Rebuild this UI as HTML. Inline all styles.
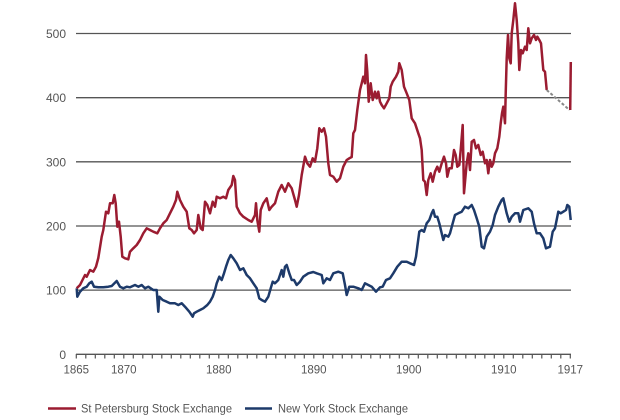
<!DOCTYPE html>
<html><head><meta charset="utf-8"><style>
html,body{margin:0;padding:0;background:#fff;}
svg{display:block;font-family:"Liberation Sans",Arial,sans-serif;}
</style></head><body>
<svg width="620" height="420" viewBox="0 0 620 420" xmlns="http://www.w3.org/2000/svg">
<rect width="620" height="420" fill="#fff"/>
<g stroke="#555" stroke-width="1.3">
<line x1="76" y1="33.5" x2="571" y2="33.5"/>
<line x1="76" y1="97.7" x2="571" y2="97.7"/>
<line x1="76" y1="161.8" x2="571" y2="161.8"/>
<line x1="76" y1="226" x2="571" y2="226"/>
<line x1="76" y1="290.1" x2="571" y2="290.1"/>
<line x1="76" y1="354.3" x2="571" y2="354.3"/>
</g>
<g fill="#555" font-size="12" text-anchor="end">
<text x="66" y="38">500</text>
<text x="66" y="102.2">400</text>
<text x="66" y="166.3">300</text>
<text x="66" y="230.5">200</text>
<text x="66" y="294.6">100</text>
<text x="66" y="358.8">0</text>
</g>
<g fill="#555" font-size="11.5" text-anchor="middle">
<text x="76.3" y="373.5">1865</text>
<text x="123.8" y="373.5">1870</text>
<text x="218.8" y="373.5">1880</text>
<text x="313.8" y="373.5">1890</text>
<text x="408.8" y="373.5">1900</text>
<text x="503.8" y="373.5">1910</text>
<text x="570.3" y="373.5">1917</text>
</g>
<polyline fill="none" stroke="#1d3a6a" stroke-width="2.5" stroke-linejoin="round" points="76.7,288.3 77.3,296.7 80,291.7 83.3,288.3 86.7,286.7 89.3,283.3 91.7,281.7 94,286.7 98.3,287.3 103.3,287.3 108.3,286.7 111.7,286 116.7,281 120,286.7 123.3,288.3 126.7,286.7 130,287.3 135,285 138.3,286.7 141.7,285 145,288.3 148.3,286.7 150.7,288.3 153.3,290 156.7,290 158.3,311.7 159.3,296.7 162.7,300 166.7,301.7 170,303.3 175,303.3 178.3,305 181.7,303.3 185,306.7 189.3,311.7 192.7,316.7 194,313.3 196.7,311.7 200,310 203.3,308.3 207.3,305 210,301.7 212.7,296.7 215,290 216.7,283.3 219.3,276.7 221.7,280 224,273.3 226,266.7 228.3,260 230.7,255 233.3,258.3 236.7,263.3 240,270 243.3,268.3 246.7,275 250,278.3 253.3,283.3 256.7,288.3 259.3,298.3 261.7,300 265,301.7 268.3,296.7 270.7,288.3 272.7,281.7 275,283.3 278.3,280 281.7,270 283.3,276.7 285,266.7 286.7,265 289.3,273.3 291.7,280 294,280 296.7,285 300,281.7 303.3,276.7 308.3,273.3 313.3,272 316.7,273.3 321.7,275 323.3,283.3 326.7,278.3 330,280 333.3,273.3 338.3,271.7 342.7,273.3 345,285 346.7,295 349.3,286.7 353.3,286.7 358.3,288.3 361.7,290 365,283.3 368.3,285 371.7,286.7 376,291.7 380,287.3 382.7,286.7 386,280 390,278.3 393.3,273.3 397.3,266.7 401.7,261.7 406.7,261.7 410,263.3 414,265 416,256.7 417.3,246.7 419.3,231.7 421.7,230 424,231.7 426.7,223.3 429.3,220 431.7,213.3 433.3,210 435,216.7 437.3,216.7 439.3,223.3 441.7,233.3 443.3,240 445,235 448.3,236.7 450,233.3 452.7,223.3 455,215 458.3,213.3 461.7,211.7 465,206.7 468.3,208.3 471.7,205 474,210 476.7,218.3 479.3,226.7 481.7,246.7 484,248.3 486.7,236.7 490,231.7 492.7,225 495,215 498.3,206.7 501.7,200 503.3,198.3 506.7,213.3 509.3,221.7 511.7,216.7 515,213.3 518.3,213.3 520,221.7 523.3,210 528.3,208.3 531.7,211.7 534,223.3 536.7,233.3 540,233.3 543.3,238.3 546,248.3 550,246.7 552.7,231.7 555,228.3 558.3,211.7 560.7,213.3 563.3,211.7 566,210 567.3,205 569.3,206.7 570.7,220"/>
<polyline fill="none" stroke="#9b1c31" stroke-width="2.5" stroke-linejoin="round" points="76.7,288.3 80,285 85,275 86.7,276.7 90,270 93.3,271.7 96,266.7 98.3,258 101.7,236.7 103.3,230 106,211.7 108.3,213.3 110,203.3 112.7,203.3 114.3,195 115.7,203.3 117.3,226.7 119,221.7 120.7,236.7 122.3,256.7 125,258.3 128.3,259.3 130,251.7 133.3,248.3 136.7,245 140,240 143.3,233.3 146.7,228.3 150,230 153.3,231.7 157.3,233.3 160,228.3 163.3,223.3 166.7,220 170,213.3 173.3,206.7 176,200 177.3,191.7 180,200 183.3,206.7 186.7,211.7 189.3,228.3 191.7,230 194,233.3 196.7,230 198.3,215 200.7,228.3 202.7,230 205,201.7 207.3,205 210,213.3 212.7,201.7 215,206.7 216.7,196.7 220,198.3 223.3,196.7 226,198.3 228.3,190 231.7,185 233.3,176 235,180 236.7,206.7 240,213.3 243.3,216.7 248.3,220 251.7,221.7 255,215 256,203.3 257.3,220 259.3,231.7 260.7,210 263.3,203.3 266.7,198.3 269.3,210 271.7,206.7 275,203.3 278.3,191.7 281.7,185 285,191.7 288.3,183.3 291.7,188.3 295,200 296.7,206.7 299,195 301.7,175 305,156.7 307.3,163.3 310,166.7 312.7,158.3 315,161.7 317.3,148.3 319.3,128.3 321.7,131.7 324,128.3 326,136.7 328.3,163.3 330,175 333.3,176.7 336.7,181.7 340,178.3 343.3,166.7 346.7,160 349.3,158.3 351.7,157 353.3,133.3 355,130 357.3,110 360,90 361.7,83.3 363.3,76.7 365,83.3 366,55 367.3,71.7 368.7,101.7 370.7,83.3 372.7,100 375,91.7 376.7,98.3 378.3,91.7 380,101.7 381.7,105 384,108.3 386.7,103.3 389.3,98.3 390.7,86.7 392.7,81.7 396,76.7 398.3,71.7 399.3,63.3 401.7,70 404,86.7 406.7,93.3 409.3,100 411.7,118.3 415,123.3 418.3,133.3 420,138.3 421.7,150 423.3,180 425,181.7 426.7,195 428.3,180 430.7,173.3 432.7,181.7 435,171.7 437.3,166.7 439.3,171.7 441.7,163.3 444,156.7 446,163.3 447.3,176.7 449.3,168.3 451.7,168.3 454,150 455.7,155 457.3,166.7 459.3,165 460.7,150 462.7,125 464,193.3 466.7,163.3 468.3,153.3 470,170 471.7,141.7 474,140 476,148.3 478.3,145 480.7,155 482.7,151.7 485,163.3 486.7,160 488.3,173.3 490,160 491.7,166.7 493.3,163.3 495,153.3 497.3,148.3 499.3,136.7 500.7,123.3 502,113.3 503.3,106.7 505,123.3 505.7,93.3 506.7,58.3 508,35 509.3,58.3 510.7,63.3 511.7,33.3 513.3,20 515,3.3 516.7,20 518.3,43.3 519.3,70 521,50 522.7,53.3 525,46.7 526.7,50 528.3,28.3 530,43.3 531.7,38.3 534,35 536,40 537.3,36.7 539.3,40 541,43.3 543.3,70 545,71.7 546.7,90"/>
<line x1="546.7" y1="90" x2="569.5" y2="110" stroke="#888" stroke-width="2" stroke-dasharray="3,2"/>
<polyline fill="none" stroke="#9b1c31" stroke-width="2.5" points="570.2,110 570.8,62"/>
<line x1="48" y1="408.5" x2="76" y2="408.5" stroke="#9b1c31" stroke-width="2.5"/>
<text x="81" y="412.5" font-size="12" fill="#555" textLength="151" lengthAdjust="spacingAndGlyphs">St Petersburg Stock Exchange</text>
<line x1="245" y1="408.5" x2="272" y2="408.5" stroke="#1d3a6a" stroke-width="2.5"/>
<text x="278" y="412.5" font-size="12" fill="#555" textLength="130" lengthAdjust="spacingAndGlyphs">New York Stock Exchange</text>
<g stroke="#555" stroke-width="1.2">
<line x1="76.3" y1="354" x2="76.3" y2="358.5"/><line x1="85.8" y1="354" x2="85.8" y2="358.5"/><line x1="95.3" y1="354" x2="95.3" y2="358.5"/><line x1="104.8" y1="354" x2="104.8" y2="358.5"/><line x1="114.3" y1="354" x2="114.3" y2="358.5"/><line x1="123.8" y1="354" x2="123.8" y2="358.5"/><line x1="133.3" y1="354" x2="133.3" y2="358.5"/><line x1="142.8" y1="354" x2="142.8" y2="358.5"/><line x1="152.3" y1="354" x2="152.3" y2="358.5"/><line x1="161.8" y1="354" x2="161.8" y2="358.5"/><line x1="171.3" y1="354" x2="171.3" y2="358.5"/><line x1="180.8" y1="354" x2="180.8" y2="358.5"/><line x1="190.3" y1="354" x2="190.3" y2="358.5"/><line x1="199.8" y1="354" x2="199.8" y2="358.5"/><line x1="209.3" y1="354" x2="209.3" y2="358.5"/><line x1="218.8" y1="354" x2="218.8" y2="358.5"/><line x1="228.3" y1="354" x2="228.3" y2="358.5"/><line x1="237.8" y1="354" x2="237.8" y2="358.5"/><line x1="247.3" y1="354" x2="247.3" y2="358.5"/><line x1="256.8" y1="354" x2="256.8" y2="358.5"/><line x1="266.3" y1="354" x2="266.3" y2="358.5"/><line x1="275.8" y1="354" x2="275.8" y2="358.5"/><line x1="285.3" y1="354" x2="285.3" y2="358.5"/><line x1="294.8" y1="354" x2="294.8" y2="358.5"/><line x1="304.3" y1="354" x2="304.3" y2="358.5"/><line x1="313.8" y1="354" x2="313.8" y2="358.5"/><line x1="323.3" y1="354" x2="323.3" y2="358.5"/><line x1="332.8" y1="354" x2="332.8" y2="358.5"/><line x1="342.3" y1="354" x2="342.3" y2="358.5"/><line x1="351.8" y1="354" x2="351.8" y2="358.5"/><line x1="361.3" y1="354" x2="361.3" y2="358.5"/><line x1="370.8" y1="354" x2="370.8" y2="358.5"/><line x1="380.3" y1="354" x2="380.3" y2="358.5"/><line x1="389.8" y1="354" x2="389.8" y2="358.5"/><line x1="399.3" y1="354" x2="399.3" y2="358.5"/><line x1="408.8" y1="354" x2="408.8" y2="358.5"/><line x1="418.3" y1="354" x2="418.3" y2="358.5"/><line x1="427.8" y1="354" x2="427.8" y2="358.5"/><line x1="437.3" y1="354" x2="437.3" y2="358.5"/><line x1="446.8" y1="354" x2="446.8" y2="358.5"/><line x1="456.3" y1="354" x2="456.3" y2="358.5"/><line x1="465.8" y1="354" x2="465.8" y2="358.5"/><line x1="475.3" y1="354" x2="475.3" y2="358.5"/><line x1="484.8" y1="354" x2="484.8" y2="358.5"/><line x1="494.3" y1="354" x2="494.3" y2="358.5"/><line x1="503.8" y1="354" x2="503.8" y2="358.5"/><line x1="513.3" y1="354" x2="513.3" y2="358.5"/><line x1="522.8" y1="354" x2="522.8" y2="358.5"/><line x1="532.3" y1="354" x2="532.3" y2="358.5"/><line x1="541.8" y1="354" x2="541.8" y2="358.5"/><line x1="551.3" y1="354" x2="551.3" y2="358.5"/><line x1="560.8" y1="354" x2="560.8" y2="358.5"/><line x1="570.3" y1="354" x2="570.3" y2="358.5"/>
</g>
</svg>
</body></html>
